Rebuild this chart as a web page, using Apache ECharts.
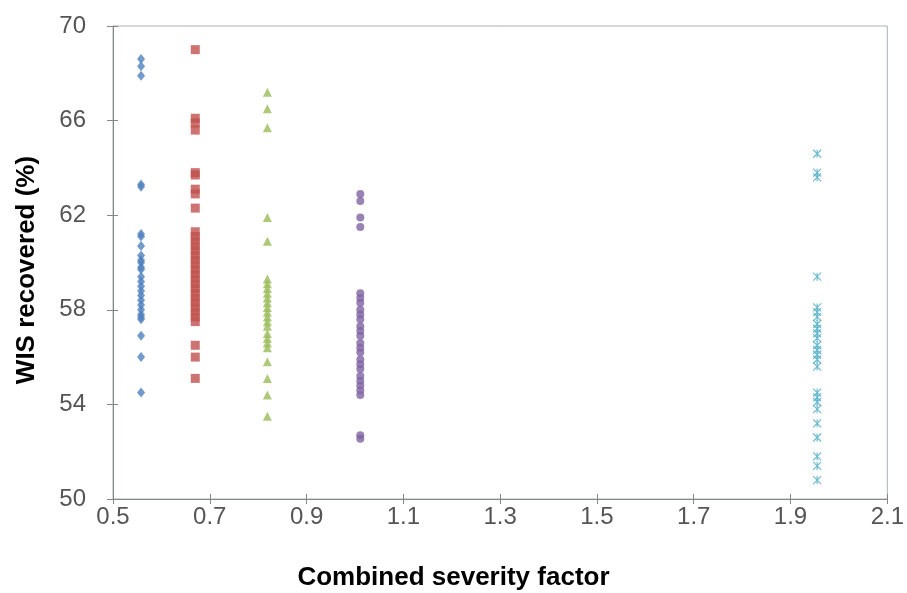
<!DOCTYPE html>
<html><head><meta charset="utf-8">
<script src="https://cdn.jsdelivr.net/npm/echarts@6/dist/echarts.min.js"></script>
<style>html,body{margin:0;padding:0;background:#fff}#c{width:907px;height:593px}</style>
</head><body><div id="c"></div>
<script>
const xTicks = [0.5, 0.7, 0.9, 1.1, 1.3, 1.5, 1.7, 1.9, 2.1];
const yTicks = [50, 54, 58, 62, 66, 70];
const xTitle = 'Combined severity factor';
const yTitle = 'WIS recovered (%)';
const seriesX = [0.558, 0.670, 0.819, 1.011, 1.955];
const blueY = [68.6, 68.3, 67.9, 63.3, 63.2, 61.2, 61.1, 60.7, 60.3, 60.1, 60.0, 59.8, 59.7, 59.4, 59.2, 59.0, 58.8, 58.6, 58.4, 58.2, 58.0, 57.8, 57.7, 57.6, 56.9, 56.0, 54.5];
const redY = [69.0, 66.1, 65.9, 65.6, 63.8, 63.7, 63.1, 62.9, 62.3, 61.3, 61.1, 60.9, 60.7, 60.5, 60.3, 60.1, 59.9, 59.7, 59.5, 59.3, 59.1, 58.9, 58.7, 58.5, 58.3, 58.1, 57.9, 57.7, 57.5, 56.5, 56.0, 55.1];
const greenY = [67.2, 66.5, 65.7, 61.9, 60.9, 59.3, 59.1, 58.9, 58.7, 58.5, 58.3, 58.1, 57.9, 57.7, 57.5, 57.3, 57.0, 56.8, 56.6, 56.4, 55.8, 55.1, 54.4, 53.5];
const purpleY = [62.9, 62.6, 61.9, 61.5, 58.7, 58.5, 58.3, 58.0, 57.8, 57.6, 57.3, 57.1, 56.9, 56.6, 56.4, 56.2, 55.9, 55.7, 55.5, 55.2, 55.0, 54.8, 54.6, 54.4, 52.7, 52.55];
const cyanY = [64.6, 63.8, 63.6, 59.4, 58.1, 57.9, 57.7, 57.4, 57.2, 57.0, 56.8, 56.5, 56.3, 56.1, 55.9, 55.6, 54.5, 54.3, 54.1, 53.8, 53.2, 52.6, 51.8, 51.4, 50.8];

const groups = [
  {y: blueY, color: '#4F81BD', symbol: 'diamond', size: [8, 10]},
  {y: redY, color: '#C0504D', symbol: 'rect', size: 9},
  {y: greenY, color: '#9BBB59', symbol: 'triangle', size: 9},
  {y: purpleY, color: '#8064A2', symbol: 'circle', size: 8},
  {y: cyanY, color: '#4BACC6', symbol: 'path://M0,0L10,10M10,0L0,10M5,0L5,10', size: 8, stroke: true}
];

const series = groups.map((g, i) => ({
  type: 'scatter',
  xAxisIndex: 0, yAxisIndex: 0,
  symbol: g.symbol,
  symbolSize: g.size,
  data: g.y.map(v => [seriesX[i], v]),
  itemStyle: g.stroke ? {color: 'rgba(0,0,0,0)', borderColor: g.color, borderWidth: 1.2} : {color: g.color},
  animation: false
}));

const ff = 'Liberation Sans, Arial, sans-serif';
const labelFont = {fontFamily: ff, fontSize: 24, color: '#555'};
const chart = echarts.init(document.getElementById('c'));
chart.setOption({
  animation: false,
  grid: {left: 113, right: 18, top: 26, bottom: 94, show: true, borderColor: '#A8B4B4', borderWidth: 1, backgroundColor: '#fff'},
  graphic: [
    {type: 'text', left: 'center', top: 565, style: {text: xTitle, font: 'bold 26px ' + ff, fill: '#000'}},
    {type: 'text', x: 27, y: 270, rotation: Math.PI / 2, style: {text: yTitle, font: 'bold 26px ' + ff, fill: '#000', textAlign: 'center', textVerticalAlign: 'middle'}}
  ],
  xAxis: [{
    type: 'value', min: xTicks[0], max: xTicks[xTicks.length - 1], interval: 0.2,
    axisLine: {show: true, lineStyle: {color: '#868686', width: 1}},
    axisTick: {show: true, length: 5, lineStyle: {color: '#868686'}},
    axisLabel: Object.assign({margin: 6, formatter: v => v.toFixed(1)}, labelFont),
    splitLine: {show: false}
  }, {
    type: 'value', min: xTicks[0], max: xTicks[xTicks.length - 1], interval: 0.2, position: 'bottom',
    axisLine: {show: false}, axisTick: {show: true, inside: true, length: 5, lineStyle: {color: '#868686'}},
    axisLabel: {show: false}, splitLine: {show: false}
  }],
  yAxis: [{
    type: 'value', min: yTicks[0], max: yTicks[yTicks.length - 1], interval: 4,
    axisLine: {show: true, lineStyle: {color: '#868686', width: 1}},
    axisTick: {show: true, length: 6, lineStyle: {color: '#868686'}},
    axisLabel: Object.assign({margin: 27}, labelFont),
    splitLine: {show: false}
  }, {
    type: 'value', min: yTicks[0], max: yTicks[yTicks.length - 1], interval: 4, position: 'left',
    axisLine: {show: false}, axisTick: {show: true, inside: true, length: 5, lineStyle: {color: '#868686'}},
    axisLabel: {show: false}, splitLine: {show: false}
  }],
  series: series
});
</script></body></html>
